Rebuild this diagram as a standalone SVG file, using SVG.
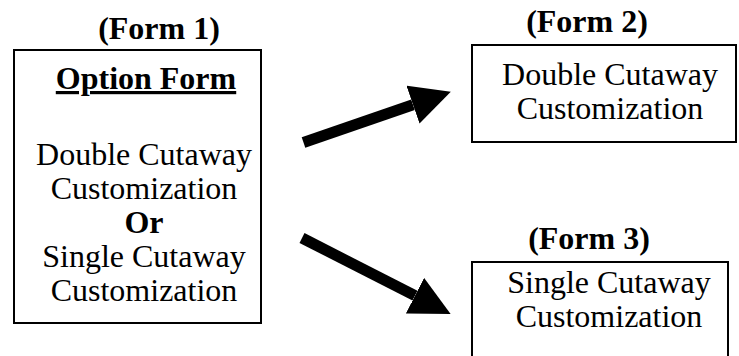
<svg xmlns="http://www.w3.org/2000/svg" width="739" height="356" viewBox="0 0 739 356">
<style>
text{font-family:"Liberation Serif","Times New Roman",serif;font-size:32px;fill:#000;text-anchor:middle}
.b{font-weight:bold}
.u{text-decoration:underline}
.box{fill:#fff;stroke:#000;stroke-width:2}
.arr{stroke:#000;stroke-width:11;fill:none;marker-end:url(#head)}
</style>
<defs>
<marker id="head" markerUnits="userSpaceOnUse" markerWidth="40" markerHeight="40" refX="0" refY="18" orient="auto" viewBox="0 0 36 36">
<path d="M0,0 L36,18 L0,36 Z" fill="#000"/>
</marker>
</defs>
<rect width="739" height="356" fill="#fff"/>
<g id="form1">
<text class="b" x="159" y="39">(Form 1)</text>
<rect class="box" x="14" y="50" width="247" height="273"/>
<text class="b u" x="146" y="89">Option Form</text>
<text x="144" y="165">Double Cutaway</text>
<text x="144" y="199">Customization</text>
<text class="b" x="144" y="233">Or</text>
<text x="144" y="267">Single Cutaway</text>
<text x="144" y="301">Customization</text>
</g>
<g id="form2">
<text class="b" x="587" y="32">(Form 2)</text>
<rect class="box" x="472" y="45" width="264" height="97"/>
<text x="610" y="85">Double Cutaway</text>
<text x="610" y="119">Customization</text>
</g>
<g id="form3">
<text class="b" x="589" y="249">(Form 3)</text>
<rect class="box" x="472" y="262" width="256" height="110"/>
<text x="609" y="293">Single Cutaway</text>
<text x="609" y="327">Customization</text>
</g>
<g id="connectors">
<line class="arr" x1="303.5" y1="142.5" x2="413" y2="104.7"/>
<line class="arr" x1="302" y1="238" x2="415" y2="295.7"/>
</g>
</svg>
